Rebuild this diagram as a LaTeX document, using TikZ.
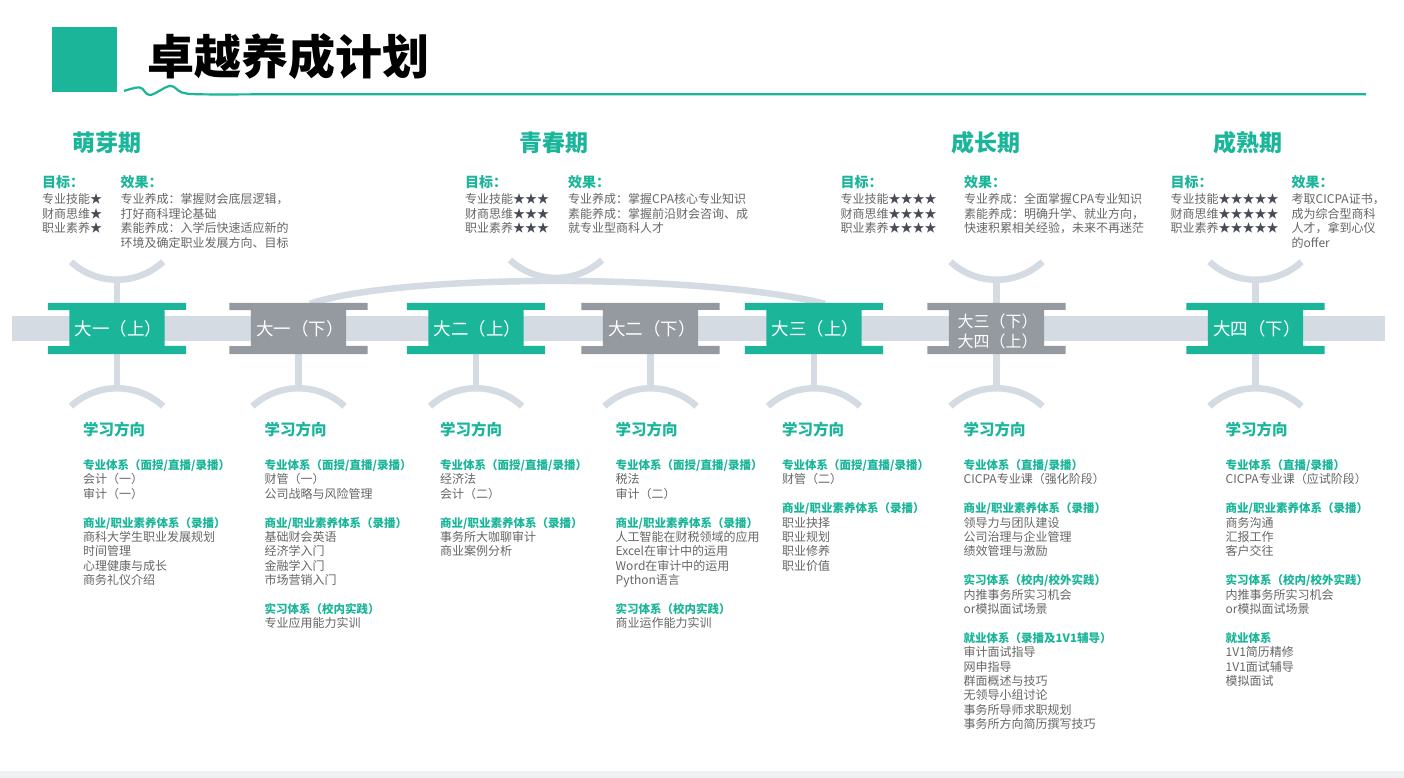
\documentclass[tikz,border=0pt]{standalone}
\usepackage{fontspec}
\setmainfont{Noto Sans CJK SC}
\usetikzlibrary{calc}
\definecolor{brand}{HTML}{1BB59A}
\definecolor{bargray}{HTML}{D5DBE3}
\definecolor{beamgray}{HTML}{959AA1}
\definecolor{txtgray}{HTML}{666666}
\definecolor{stargray}{HTML}{474B55}
\definecolor{bandgray}{HTML}{EFF0F2}
\newcommand{\hd}[1]{{\color{brand}\bfseries\fontsize{11.5}{13}\selectfont #1}}
\newcommand{\stars}[1]{{\color{stargray}#1}}
\newcommand{\tblock}[5]{%
  \foreach \itm [count=\i from 0] in {#5} {%
    \node[txt] (#1-\i) at (#2,{#3+\i*#4}) {\itm};
  }%
}
\newcommand{\beamfill}[2]{%
  \fill[#2] (#1.north west) -- (#1.north east) -- ++(0,7) -- ++(-21.5,0) -- ++(0,36) -- ++(21.5,0)
    -- (#1.south east) -- (#1.south west) -- ++(0,-8) -- ++(21.5,0) -- ++(0,-36) -- ++(-21.5,0) -- cycle;
}
\newcommand{\botarc}[2]{%
  \coordinate (#2) at ($(#1.south)+(0,34)$);
  \draw[stem] (#1.south) -- (#2);
  \draw[stem] (#2) ++(-46,18) arc[start angle=-132.6, end angle=-47.4, radius=68];
}
\newcommand{\toparc}[2]{%
  \coordinate (#2) at ($(#1.north)+(0,-23)$);
  \draw[stem] (#1.north) -- (#2);
  \draw[stem] (#2) ++(-46,-18) arc[start angle=132.6, end angle=47.4, radius=68];
}
\begin{document}
\begin{tikzpicture}[x=1pt,y=-1pt,
  txt/.style={anchor=west, inner sep=0pt, text height=10.56pt, text depth=1.44pt, text=txtgray, font=\fontsize{12}{14}\selectfont},
  hdtop/.style={anchor=west, inner sep=0pt, text height=12.32pt, text depth=1.68pt, text=brand, font=\fontsize{14}{16}\selectfont\bfseries},
  studyhd/.style={anchor=west, inner sep=0pt, text height=13.64pt, text depth=1.86pt, text=brand, font=\fontsize{15.5}{17}\selectfont\bfseries},
  phase/.style={inner sep=0pt, text height=20.24pt, text depth=2.76pt, text=brand, font=\fontsize{23}{25}\selectfont\bfseries},
  beam/.style={minimum width=138pt, minimum height=51pt, inner sep=0pt},
  beamlabel/.style={inner sep=0pt, text height=15.4pt, text depth=2.1pt, text=white, font=\fontsize{17.5}{20}\selectfont},
  beamlabelsm/.style={inner sep=0pt, text height=14.08pt, text depth=1.92pt, text=white, font=\fontsize{16}{18}\selectfont},
  stem/.style={draw=bargray, line width=6.5pt}
]
\useasboundingbox (0,0) rectangle (1404,778);
\fill[white] (0,0) rectangle (1404,778);
\fill[bandgray] (0,771) rectangle (1404,778);

% header
\fill[brand] (51.5,27) rectangle (117,92);
\node[anchor=west, inner sep=0pt, text height=41.36pt, text depth=5.64pt, font=\fontsize{47}{50}\selectfont\bfseries] (title) at (147,57) {卓越养成计划};
\draw[brand, line width=2.2pt] plot[smooth, tension=0.6] coordinates {(124,91) (140,87.5) (150,95) (170,86) (182,92.5) (200,94.3) (260,94.3)} -- (1366,94.3);

% timeline bar
\fill[bargray] (12,316) rectangle (1385,341);

% beam nodes (positions)
\node[beam] (n1) at (117,328.5) {};
\node[beam] (n2) at (298.5,328.5) {};
\node[beam] (n3) at (476,328.5) {};
\node[beam] (n4) at (650.5,328.5) {};
\node[beam] (n5) at (814,328.5) {};
\node[beam] (n6) at (996.5,328.5) {};
\node[beam] (n7) at (1255.5,328.5) {};

% stems and arcs
\toparc{n1}{t1}
\toparc{n6}{t6}
\toparc{n7}{t7}
\coordinate (bigL) at ($(n2.north)+(11.5,1)$);
\coordinate (bigR) at ($(n5.north)+(11,1)$);
\draw[stem] (bigL) .. controls (400,273.3) and (704,273.3) .. (bigR);
\coordinate (tq) at (556,278);
\draw[stem] (tq) ++(-46,-18) arc[start angle=132.6, end angle=47.4, radius=68];
\botarc{n1}{b1}
\botarc{n2}{b2}
\botarc{n3}{b3}
\botarc{n4}{b4}
\botarc{n5}{b5}
\botarc{n6}{b6}
\botarc{n7}{b7}

% beams
\beamfill{n1}{brand}
\beamfill{n2}{beamgray}
\beamfill{n3}{brand}
\beamfill{n4}{beamgray}
\beamfill{n5}{brand}
\beamfill{n6}{beamgray}
\beamfill{n7}{brand}
\node[beamlabel] (n1-l) at ([xshift=1.5pt]n1.center) {大一（上）};
\node[beamlabel] (n2-l) at ([xshift=1.5pt]n2.center) {大一（下）};
\node[beamlabel] (n3-l) at ([xshift=1.5pt]n3.center) {大二（上）};
\node[beamlabel] (n4-l) at ([xshift=1.5pt]n4.center) {大二（下）};
\node[beamlabel] (n5-l) at ([xshift=1.5pt]n5.center) {大三（上）};
\node[beamlabelsm] (n6-l1) at (997.5,321.7) {大三（下）};
\node[beamlabelsm] (n6-l2) at (997.5,341.7) {大四（上）};
\node[beamlabel] (n7-l) at ([xshift=1.5pt]n7.center) {大四（下）};

% phase titles
\node[phase] (ph1) at (107,143) {萌芽期};
\node[phase] (ph2) at (553.5,143) {青春期};
\node[phase] (ph3) at (986,143) {成长期};
\node[phase] (ph4) at (1248,143) {成熟期};

% phase 1
\node[hdtop] (p1g) at (42,182) {目标：};
\node[hdtop] (p1e) at (120.5,182) {效果：};
\tblock{p1gl}{42}{199}{14.5}{专业技能\stars{★}, 财商思维\stars{★}, 职业素养\stars{★}}
\tblock{p1el}{120.5}{199}{14.5}{专业养成：掌握财会底层逻辑，, 打好商科理论基础, 素能养成：入学后快速适应新的, 环境及确定职业发展方向、目标}

% phase 2
\node[hdtop] (p2g) at (465,182) {目标：};
\node[hdtop] (p2e) at (568,182) {效果：};
\tblock{p2gl}{465}{199}{14.5}{专业技能\stars{★★★}, 财商思维\stars{★★★}, 职业素养\stars{★★★}}
\tblock{p2el}{568}{199}{14.5}{专业养成：掌握CPA核心专业知识, 素能养成：掌握前沿财会咨询、成, 就专业型商科人才}

% phase 3
\node[hdtop] (p3g) at (840.5,182) {目标：};
\node[hdtop] (p3e) at (964,182) {效果：};
\tblock{p3gl}{840.5}{199}{14.5}{专业技能\stars{★★★★}, 财商思维\stars{★★★★}, 职业素养\stars{★★★★}}
\tblock{p3el}{964}{199}{14.5}{专业养成：全面掌握CPA专业知识, 素能养成：明确升学、就业方向，, 快速积累相关经验，未来不再迷茫}

% phase 4
\node[hdtop] (p4g) at (1170.5,182) {目标：};
\node[hdtop] (p4e) at (1291.5,182) {效果：};
\tblock{p4gl}{1170.5}{199}{14.5}{专业技能\stars{★★★★★}, 财商思维\stars{★★★★★}, 职业素养\stars{★★★★★}}
\tblock{p4el}{1291.5}{199}{14.5}{考取CICPA证书，, 成为综合型商科, 人才，拿到心仪, 的offer}

% study columns
\node[studyhd] (s1) at (83,430) {学习方向};
\node[studyhd] (s2) at (264.5,430) {学习方向};
\node[studyhd] (s3) at (440,430) {学习方向};
\node[studyhd] (s4) at (615.5,430) {学习方向};
\node[studyhd] (s5) at (782,430) {学习方向};
\node[studyhd] (s6) at (963.5,430) {学习方向};
\node[studyhd] (s7) at (1225.5,430) {学习方向};

\tblock{c1}{83}{465}{14.4}{\hd{专业体系（面授/直播/录播）}, 会计（一）, 审计（一）, {}, \hd{商业/职业素养体系（录播）}, 商科大学生职业发展规划, 时间管理, 心理健康与成长, 商务礼仪介绍}
\tblock{c2}{264.5}{465}{14.4}{\hd{专业体系（面授/直播/录播）}, 财管（一）, 公司战略与风险管理, {}, \hd{商业/职业素养体系（录播）}, 基础财会英语, 经济学入门, 金融学入门, 市场营销入门, {}, \hd{实习体系（校内实践）}, 专业应用能力实训}
\tblock{c3}{440}{465}{14.4}{\hd{专业体系（面授/直播/录播）}, 经济法, 会计（二）, {}, \hd{商业/职业素养体系（录播）}, 事务所大咖聊审计, 商业案例分析}
\tblock{c4}{615.5}{465}{14.4}{\hd{专业体系（面授/直播/录播）}, 税法, 审计（二）, {}, \hd{商业/职业素养体系（录播）}, 人工智能在财税领域的应用, Excel在审计中的运用, Word在审计中的运用, Python语言, {}, \hd{实习体系（校内实践）}, 商业运作能力实训}
\tblock{c5}{782}{465}{14.4}{\hd{专业体系（面授/直播/录播）}, 财管（二）, {}, \hd{商业/职业素养体系（录播）}, 职业抉择, 职业规划, 职业修养, 职业价值}
\tblock{c6}{963.5}{465}{14.4}{\hd{专业体系（直播/录播）}, CICPA专业课（强化阶段）, {}, \hd{商业/职业素养体系（录播）}, 领导力与团队建设, 公司治理与企业管理, 绩效管理与激励, {}, \hd{实习体系（校内/校外实践）}, 内推事务所实习机会, or模拟面试场景, {}, \hd{就业体系（录播及1V1辅导）}, 审计面试指导, 网申指导, 群面概述与技巧, 无领导小组讨论, 事务所导师求职规划, 事务所方向简历撰写技巧}
\tblock{c7}{1225.5}{465}{14.4}{\hd{专业体系（直播/录播）}, CICPA专业课（应试阶段）, {}, \hd{商业/职业素养体系（录播）}, 商务沟通, 汇报工作, 客户交往, {}, \hd{实习体系（校内/校外实践）}, 内推事务所实习机会, or模拟面试场景, {}, \hd{就业体系}, 1V1简历精修, 1V1面试辅导, 模拟面试}
\end{tikzpicture}
\end{document}
